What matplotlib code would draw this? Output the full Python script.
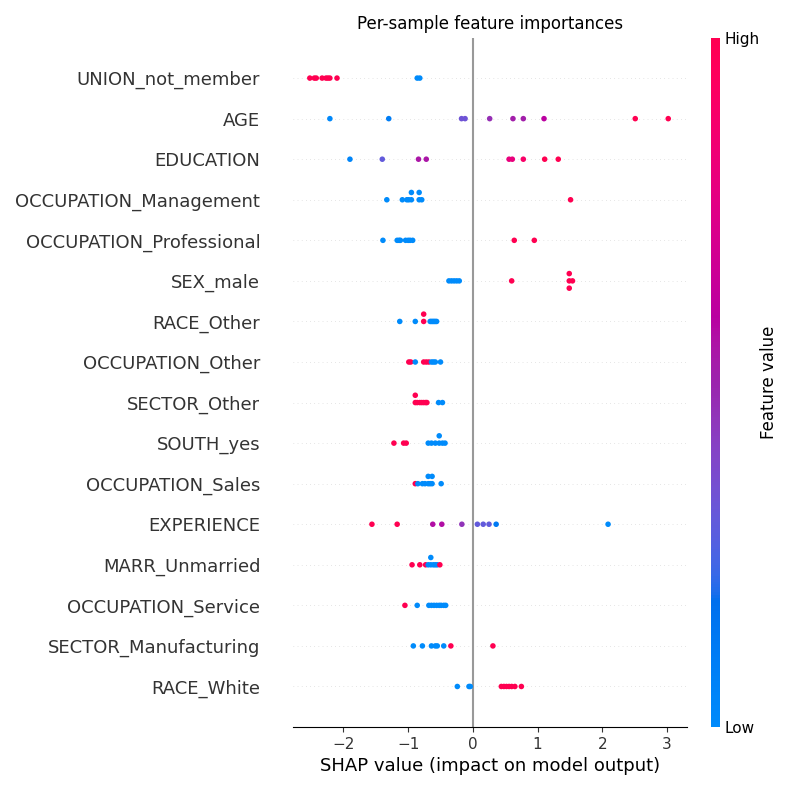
import numpy as np
import matplotlib
matplotlib.use("Agg")
import matplotlib.pyplot as plt
from matplotlib.colors import LinearSegmentedColormap

features = ["UNION_not_member", "AGE", "EDUCATION", "OCCUPATION_Management",
            "OCCUPATION_Professional", "SEX_male", "RACE_Other", "OCCUPATION_Other",
            "SECTOR_Other", "SOUTH_yes", "OCCUPATION_Sales", "EXPERIENCE",
            "MARR_Unmarried", "OCCUPATION_Service", "SECTOR_Manufacturing", "RACE_White"]

shap_union = [-2.52, -2.45, -2.42, -2.33, -2.27, -2.24, -2.21, -2.10, -0.86, -0.82]
fv_union = [1, 1, 1, 1, 1, 1, 1, 1, 0, 0]
shap_age = [-2.21, -1.30, -0.175, -0.12, 0.26, 0.62, 0.78, 1.10, 2.51, 3.02]
fv_age = [0.02, 0.1, 0.33, 0.33, 0.47, 0.52, 0.52, 0.6, 1, 1]
shap_edu = [-1.90, -1.40, -0.84, -0.72, 0.56, 0.61, 0.78, 1.11, 1.32]
fv_edu = [0.04, 0.3, 0.55, 0.55, 0.8, 0.8, 0.9, 1, 1]
shap_mgmt = [-1.33, -1.09, -1.02, -0.99, -0.95, -0.95, -0.83, -0.83, -0.79, 1.51]
fv_mgmt = [0, 0, 0, 0, 0, 0, 0, 0, 0, 1]
shap_prof = [-1.39, -1.17, -1.14, -1.12, -1.04, -1.00, -0.97, -0.93, 0.64, 0.95]
fv_prof = [0, 0, 0, 0, 0, 0, 0, 0, 1, 1]
shap_sex = [-0.37, -0.33, -0.29, -0.25, -0.21, 0.60, 1.49, 1.49, 1.49, 1.54]
fv_sex = [0, 0, 0, 0, 0, 1, 1, 1, 1, 1]
shap_race_o = [-1.13, -0.89, -0.76, -0.76, -0.66, -0.64, -0.62, -0.60, -0.58, -0.56]
fv_race_o = [0, 0, 1, 1, 0, 0, 0, 0, 0, 0]
shap_occ_o = [-0.99, -0.96, -0.89, -0.76, -0.72, -0.68, -0.64, -0.61, -0.58, -0.50]
fv_occ_o = [1, 1, 0, 1, 1, 1, 0, 0, 0, 0]
shap_sec_o = [-0.89, -0.89, -0.86, -0.82, -0.79, -0.76, -0.73, -0.71, -0.53, -0.47]
fv_sec_o = [1, 1, 1, 1, 1, 1, 1, 1, 0, 0]
shap_south = [-1.22, -1.07, -1.03, -0.69, -0.64, -0.58, -0.52, -0.52, -0.47, -0.43]
fv_south = [1, 1, 1, 0, 0, 0, 0, 0, 0, 0]
shap_sales = [-0.89, -0.85, -0.78, -0.74, -0.69, -0.69, -0.66, -0.63, -0.63, -0.49]
fv_sales = [1, 0, 0, 0, 0, 0, 0, 0, 0, 0]
shap_exp = [-1.56, -1.17, -0.62, -0.48, -0.17, 0.07, 0.16, 0.25, 0.36, 2.09]
fv_exp = [1, 1, 0.57, 0.57, 0.45, 0.3, 0.3, 0.3, 0.12, 0.0]
shap_marr = [-0.94, -0.82, -0.73, -0.69, -0.65, -0.65, -0.61, -0.58, -0.55, -0.51]
fv_marr = [1, 1, 1, 0, 0, 0, 0, 0, 0, 1]
shap_serv = [-1.05, -0.86, -0.68, -0.64, -0.60, -0.56, -0.52, -0.49, -0.45, -0.42]
fv_serv = [1, 0, 0, 0, 0, 0, 0, 0, 0, 0]
shap_manu = [-0.92, -0.78, -0.64, -0.58, -0.55, -0.45, -0.34, 0.31]
fv_manu = [0, 0, 0, 0, 0, 0, 1, 1]
shap_white = [-0.24, -0.06, -0.04, 0.44, 0.48, 0.52, 0.56, 0.60, 0.65, 0.75]
fv_white = [0, 0, 0, 1, 1, 1, 1, 1, 1, 1]

shap_rows = [shap_union, shap_age, shap_edu, shap_mgmt, shap_prof, shap_sex, shap_race_o,
             shap_occ_o, shap_sec_o, shap_south, shap_sales, shap_exp, shap_marr,
             shap_serv, shap_manu, shap_white]
fv_rows = [fv_union, fv_age, fv_edu, fv_mgmt, fv_prof, fv_sex, fv_race_o, fv_occ_o,
           fv_sec_o, fv_south, fv_sales, fv_exp, fv_marr, fv_serv, fv_manu, fv_white]


def lch2rgb(L, C, H):
    a = C * np.cos(H)
    b = C * np.sin(H)
    fy = (L + 16) / 116.0
    fx = fy + a / 500.0
    fz = fy - b / 200.0

    def finv(t):
        return np.where(t > 6 / 29, t ** 3, 3 * (6 / 29) ** 2 * (t - 4 / 29))
    X = 0.95047 * finv(fx)
    Y = 1.0 * finv(fy)
    Z = 1.08883 * finv(fz)
    r = 3.2406 * X - 1.5372 * Y - 0.4986 * Z
    g = -0.9689 * X + 1.8758 * Y + 0.0415 * Z
    bl = 0.0557 * X - 0.2040 * Y + 1.0570 * Z

    def gam(c):
        c = np.clip(c, 0, 1)
        return np.where(c <= 0.0031308, 12.92 * c, 1.055 * c ** (1 / 2.4) - 0.055)
    return np.stack([gam(r), gam(g), gam(bl)], -1)


nsteps = 100
blue_lch = [54., 70., 4.6588]
l_mid = 40.
red_lch = [54., 90., 0.35470565 + 2 * np.pi]
l_vals = np.concatenate([np.linspace(blue_lch[0], l_mid, nsteps // 2),
                         np.linspace(l_mid, red_lch[0], nsteps // 2)])
c_vals = np.linspace(blue_lch[1], red_lch[1], nsteps)
h_vals = np.linspace(blue_lch[2], red_lch[2], nsteps)
rgb = lch2rgb(l_vals, c_vals, h_vals)
cmap = LinearSegmentedColormap.from_list("red_blue", list(zip(np.linspace(0, 1, nsteps), rgb)))

fig = plt.figure(figsize=(8, 7.9), dpi=100)
ax = fig.add_axes([293 / 800, 0.0797, (687 - 293) / 800, 0.8728])

n = len(features)
axis_color = "#333333"
row_height = 0.4
for i, (sv, fv) in enumerate(zip(shap_rows, fv_rows)):
    pos = n - 1 - i
    ax.axhline(y=pos, color="#cccccc", lw=0.5, dashes=(1, 5), zorder=-1)
    shaps = np.array(sv, dtype=float)
    N = len(shaps)
    nbins = 100
    quant = np.round(nbins * (shaps - shaps.min()) / (shaps.max() - shaps.min() + 1e-8))
    inds = np.argsort(quant, kind="stable")
    layer = 0
    last_bin = -1
    ys = np.zeros(N)
    for ind in inds:
        if quant[ind] != last_bin:
            layer = 0
        ys[ind] = np.ceil(layer / 2) * ((layer % 2) * 2 - 1)
        layer += 1
        last_bin = quant[ind]
    ys *= 0.9 * (row_height / np.max(ys + 1))
    ax.scatter(shaps, pos + ys, c=fv, cmap=cmap, vmin=0, vmax=1, s=16,
               linewidth=0, alpha=1, zorder=3)

ax.axvline(x=0, color="#999999", lw=1.5, zorder=-1)
ax.set_xlim(-2.78, 3.31)
ax.set_ylim(-1, n)
ax.xaxis.set_ticks_position("bottom")
ax.yaxis.set_ticks_position("none")
for s in ["right", "top", "left"]:
    ax.spines[s].set_visible(False)
ax.tick_params(color=axis_color, labelcolor=axis_color)
ax.set_yticks(range(n))
ax.set_yticklabels(features[::-1], fontsize=13)
ax.tick_params("y", length=20, width=0.5, which="major")
ax.tick_params("x", labelsize=11)
ax.set_xlabel("SHAP value (impact on model output)", fontsize=13)
ax.set_title("Per-sample feature importances", fontsize=12)

cax = fig.add_axes([711 / 800, 0.0797, 9 / 800, 0.8728])
sm = matplotlib.cm.ScalarMappable(cmap=cmap, norm=matplotlib.colors.Normalize(0, 1))
sm.set_array([0, 1])
cb = fig.colorbar(sm, cax=cax, ticks=[0, 1])
cb.set_ticklabels(["Low", "High"])
cb.set_label("Feature value", size=12, labelpad=0)
cb.ax.tick_params(labelsize=11, length=0)
cb.outline.set_visible(False)

fig.savefig("out.png", dpi=100)
